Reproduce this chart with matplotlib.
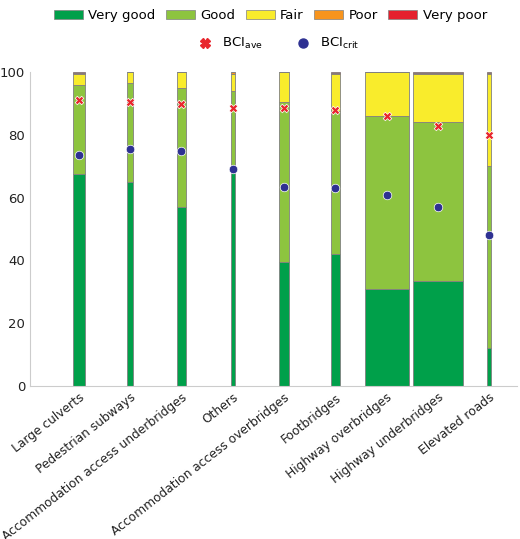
import matplotlib
matplotlib.use("Agg")
import matplotlib.pyplot as plt
import numpy as np
from matplotlib.lines import Line2D
from matplotlib.patches import Patch

categories = ["Large culverts", "Pedestrian subways", "Accommodation access underbridges", "Others",
              "Accommodation access overbridges", "Footbridges", "Highway overbridges",
              "Highway underbridges", "Elevated roads"]
widths = [0.22, 0.12, 0.16, 0.08, 0.18, 0.18, 0.86, 0.98, 0.08]
very_good = [67.5, 65, 57, 68, 39.5, 42, 31, 33.5, 12]
good = [28.5, 31.5, 38, 26, 51, 45.5, 55, 50.5, 58]
fair = [3.5, 3.5, 5, 5.5, 9.5, 12, 14, 15.3, 29.5]
poor = [0.3, 0, 0, 0.5, 0, 0.3, 0, 0.5, 0.3]
very_poor = [0.2, 0, 0, 0, 0, 0.2, 0, 0.2, 0.2]
bci_ave = [91, 90.5, 90, 88.5, 88.5, 88, 86, 83, 80]
bci_crit = [73.5, 75.5, 75, 69, 63.5, 63, 61, 57, 48]

names = ["Very good", "Good", "Fair", "Poor", "Very poor"]
colors = ["#00a04a", "#8dc43f", "#f9ec2c", "#f7941d", "#e5202e"]

fig = plt.figure(figsize=(5.2, 5.39), dpi=100)
ax = fig.add_axes([0.058, 0.284, 0.937, 0.582])
x = np.arange(len(categories))
bottom = np.zeros(len(categories))
for vals, c in zip([very_good, good, fair, poor, very_poor], colors):
    ax.bar(x, vals, width=widths, bottom=bottom, color=c, edgecolor="#808080", linewidth=0.6)
    bottom += np.array(vals)
ax.scatter(x, bci_ave, marker="X", s=38, color="#e8262d", zorder=5, linewidths=0.5, edgecolors="white")
ax.scatter(x, bci_crit, marker="o", s=38, color="#2e3192", zorder=5, linewidths=0.5, edgecolors="white")

ax.set_xlim(-0.95, 8.55)
ax.set_ylim(0, 100)
ax.set_yticks(range(0, 101, 20))
ax.set_xticks(x)
ax.set_xticklabels(categories, rotation=38, ha="right", rotation_mode="anchor", fontsize=8.8)
ax.tick_params(axis="y", labelsize=9.5)
ax.tick_params(length=0, colors="#222222")
for s in ["top", "right"]:
    ax.spines[s].set_visible(False)
for s in ["left", "bottom"]:
    ax.spines[s].set_color("#cccccc")

h1 = [Patch(facecolor=c, edgecolor="#808080", linewidth=0.5) for c in colors]
fig.legend(h1, names, loc="upper center", bbox_to_anchor=(0.52, 1.005), ncol=5, frameon=False,
           fontsize=9.5, handlelength=2.2, columnspacing=0.8, handletextpad=0.4)
h2 = [Line2D([], [], marker="X", color="#e8262d", ls="", markersize=6.5),
      Line2D([], [], marker="o", color="#2e3192", ls="", markersize=6.5)]
fig.legend(h2, ["BCI$_{\\mathregular{ave}}$", "BCI$_{\\mathregular{crit}}$"], loc="upper center",
           bbox_to_anchor=(0.53, 0.955), ncol=2, frameon=False, fontsize=9.5, columnspacing=2.0,
           handletextpad=0.3)
fig.savefig("out.png", dpi=100)
